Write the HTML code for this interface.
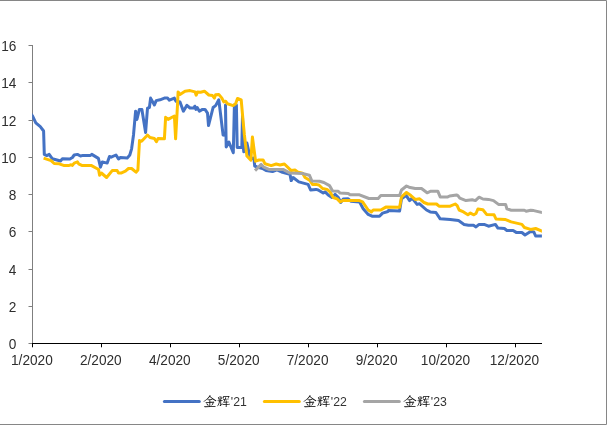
<!DOCTYPE html>
<html lang="zh"><head><meta charset="utf-8"><title>chart</title>
<style>
html,body{margin:0;padding:0;background:#fff;}
body{width:608px;height:426px;overflow:hidden;}
svg{display:block;}
text{font-family:"Liberation Sans","Noto Serif CJK SC",sans-serif;font-size:14.2px;fill:#2e2e2e;}
.lg{font-family:"Liberation Sans","LXGW WenKai TC","Noto Serif CJK SC",serif;font-size:13.6px;fill:#000;}
.ld{font-size:13.2px;fill:#333;}
</style></head><body>
<svg width="608" height="426" viewBox="0 0 608 426">
<rect width="608" height="426" fill="#fff"/>
<path d="M0,0.5H606.5V424.5H0" fill="none" stroke="#868686" stroke-width="1"/>
<path d="M32.5,45V343 M28.5,343.5H33 M28.5,306.5H33 M28.5,269.5H33 M28.5,231.5H33 M28.5,194.5H33 M28.5,157.5H33 M28.5,120.5H33 M28.5,82.5H33 M28.5,45.5H33" fill="none" stroke="#7f7f7f" stroke-width="1"/>
<path d="M32,343.5H542 M32.5,343V347.3 M101.5,343V347.3 M170.5,343V347.3 M239.5,343V347.3 M308.5,343V347.3 M377.5,343V347.3 M446.5,343V347.3 M515.5,343V347.3" fill="none" stroke="#000" stroke-width="1"/>
<g><text transform="translate(16.4,348.5) scale(0.962,1)" text-anchor="end">0</text><text transform="translate(16.4,311.5) scale(0.962,1)" text-anchor="end">2</text><text transform="translate(16.4,274.5) scale(0.962,1)" text-anchor="end">4</text><text transform="translate(16.4,236.5) scale(0.962,1)" text-anchor="end">6</text><text transform="translate(16.4,199.5) scale(0.962,1)" text-anchor="end">8</text><text transform="translate(16.4,162.5) scale(0.962,1)" text-anchor="end">10</text><text transform="translate(16.4,125.5) scale(0.962,1)" text-anchor="end">12</text><text transform="translate(16.4,87.5) scale(0.962,1)" text-anchor="end">14</text><text transform="translate(16.4,50.5) scale(0.962,1)" text-anchor="end">16</text></g>
<g><text transform="translate(31.9,364.7) scale(0.962,1)" text-anchor="middle">1/2020</text><text transform="translate(100.8,364.7) scale(0.962,1)" text-anchor="middle">2/2020</text><text transform="translate(169.8,364.7) scale(0.962,1)" text-anchor="middle">4/2020</text><text transform="translate(238.7,364.7) scale(0.962,1)" text-anchor="middle">5/2020</text><text transform="translate(307.6,364.7) scale(0.962,1)" text-anchor="middle">7/2020</text><text transform="translate(376.6,364.7) scale(0.962,1)" text-anchor="middle">9/2020</text><text transform="translate(445.5,364.7) scale(0.962,1)" text-anchor="middle">10/2020</text><text transform="translate(514.4,364.7) scale(0.962,1)" text-anchor="middle">12/2020</text></g>
<defs><clipPath id="pc"><rect x="32.2" y="40" width="509.7" height="304"/></clipPath></defs>
<g fill="none" stroke-width="3" stroke-linejoin="round" stroke-linecap="butt">
<g clip-path="url(#pc)">
<polyline stroke="#4472c4" points="30.5,113.4 32.5,115.9 35.8,122.8 40.3,126.7 43.6,131.0 44.3,154.4 46.8,155.6 49.2,154.4 52.4,158.8 60.5,161.0 62.4,158.8 69.9,159.0 72.4,157.5 74.2,155.0 77.4,154.4 80.5,156.0 83.0,155.4 90.5,155.4 91.8,154.4 98.4,158.4 100.5,167.1 102.3,161.9 107.2,163.1 109.5,156.5 111.2,157.2 116.0,155.0 118.5,159.0 120.4,157.5 127.2,158.1 129.8,155.0 131.6,148.8 133.5,135.0 135.6,111.2 136.9,119.4 139.4,109.4 141.9,109.4 145.6,132.5 147.5,108.1 149.4,107.5 150.6,98.1 154.4,105.0 156.2,100.6 160.0,99.8 164.4,98.1 167.5,98.1 169.4,100.2 174.4,98.1 176.0,101.2 180.0,102.0 183.4,111.2 186.9,105.3 190.0,108.0 193.8,108.1 194.8,106.2 196.0,109.4 197.2,107.5 199.4,111.2 202.5,109.4 205.0,109.4 207.5,113.1 208.5,125.6 213.1,107.5 215.6,105.6 218.8,99.8 223.1,135.0 225.8,135.5 225.5,105.0 226.2,147.0 228.9,142.0 233.3,152.8 234.4,105.0 236.4,105.0 237.2,147.4 241.8,147.4 242.5,116.0 243.3,147.0 243.8,151.8 246.9,143.0 249.4,154.4 251.0,158.5 253.9,158.0 254.7,166.0 257.0,167.0 262.5,168.5 266.0,170.5 272.5,171.5 277.0,169.8 282.5,172.3 290.0,174.4 291.2,180.6 293.1,177.5 298.8,181.9 308.1,184.4 310.6,190.0 316.0,189.4 318.2,190.0 323.2,193.1 325.1,191.9 328.2,195.0 332.0,197.5 335.1,194.4 338.0,197.0 340.8,202.5 343.2,199.0 348.2,198.8 350.8,201.2 359.5,201.9 363.2,208.8 368.2,214.4 372.0,216.2 379.5,216.2 382.6,213.1 388.0,211.5 388.4,210.6 399.6,211.0 401.5,198.8 406.0,195.5 407.1,196.9 409.6,200.6 412.1,198.1 417.1,204.4 419.6,203.8 426.5,210.0 430.2,211.9 435.9,212.5 440.2,218.8 450.2,219.4 458.5,220.6 464.1,224.4 468.5,225.2 473.5,225.2 476.0,226.9 479.1,224.4 484.1,224.4 488.5,226.2 495.4,224.4 497.9,228.1 504.4,228.5 506.9,230.5 513.1,230.5 516.2,232.4 521.9,232.5 525.0,235.0 530.6,231.5 533.8,231.9 535.6,236.0 544.0,236.0"/>
<polyline stroke="#ffc000" points="43.6,158.1 51.1,160.6 54.2,163.5 59.2,163.8 63.6,165.4 69.2,165.4 71.1,164.8 72.4,165.4 74.2,163.1 77.4,161.9 78.6,163.8 81.8,165.4 91.1,165.4 96.8,168.5 98.5,169.4 99.6,175.2 101.4,173.0 106.6,177.5 112.2,170.6 117.2,170.6 118.5,173.1 121.0,173.1 125.4,171.2 128.5,168.5 131.6,168.5 136.0,172.2 137.9,170.0 139.5,140.6 141.6,141.2 146.6,136.0 147.5,135.0 150.0,137.5 154.4,138.5 156.4,141.7 158.0,138.6 164.4,138.8 165.6,117.3 168.1,119.4 174.4,116.0 175.6,138.8 177.5,105.0 178.1,91.9 180.0,94.4 185.0,91.2 190.0,90.6 195.0,91.9 196.2,95.2 197.5,91.9 200.6,92.2 204.4,91.2 208.8,95.0 212.5,95.6 214.4,98.1 215.6,94.8 218.8,94.4 221.9,98.1 223.8,101.9 225.6,101.2 227.5,103.8 233.1,105.6 235.6,103.8 237.5,98.5 241.2,100.0 243.1,121.2 244.4,135.0 246.9,156.0 250.9,160.2 252.4,137.0 255.6,161.2 258.8,160.0 263.1,160.0 265.0,163.8 271.2,165.6 276.2,164.0 280.0,165.0 284.4,164.0 291.2,170.6 295.0,170.0 297.5,171.9 302.5,173.1 305.0,177.5 310.0,180.6 312.5,184.4 316.0,184.4 318.9,185.0 322.6,188.5 327.0,189.4 330.1,191.9 333.2,197.5 337.0,198.8 340.1,201.9 343.2,200.4 359.5,200.6 362.6,201.9 368.2,210.0 371.4,211.9 373.2,210.0 380.8,210.0 385.8,207.1 399.6,207.2 401.5,196.9 406.5,192.5 410.9,195.6 415.2,199.4 419.6,198.8 424.0,202.5 427.8,204.0 436.5,204.0 439.0,206.2 450.2,206.2 455.2,204.0 457.2,205.6 459.1,210.0 463.5,211.9 467.9,214.8 470.4,213.1 473.5,214.8 476.0,213.5 477.9,209.0 482.9,209.8 486.6,214.4 494.1,214.8 496.0,219.0 505.0,219.4 511.2,221.9 521.9,224.4 524.4,227.5 530.6,229.4 535.6,228.5 544.0,231.8"/>
<polyline stroke="#a5a5a5" points="255.0,170.6 261.2,164.4 263.8,167.2 268.8,169.4 283.1,169.4 290.0,173.1 302.5,173.5 309.4,175.2 311.9,181.0 319.5,181.2 323.9,182.5 329.5,185.6 332.6,191.0 338.2,191.2 340.1,193.1 348.2,193.5 350.1,194.8 359.5,194.8 368.9,198.5 378.2,198.5 380.8,195.6 399.6,195.6 401.5,190.0 406.5,186.0 409.0,187.2 415.2,188.5 421.5,188.5 427.1,192.8 430.9,191.2 437.8,191.2 440.2,196.9 447.8,196.9 449.6,196.0 456.5,195.0 457.9,195.6 459.8,198.1 466.0,200.6 472.2,199.8 475.4,200.6 479.1,197.2 482.9,199.0 488.5,199.4 493.5,200.6 498.5,204.4 505.6,204.4 506.9,208.8 511.2,210.2 524.4,210.2 526.2,211.2 530.6,210.2 533.8,210.6 544.0,213.0"/>
</g>
<path stroke-linecap="round" stroke="#4472c4" d="M164.4,401.5H199.3"/>
<path stroke-linecap="round" stroke="#ffc000" d="M264.4,401.5H299.3"/>
<path stroke-linecap="round" stroke="#a5a5a5" d="M364.4,401.5H399.3"/>
</g>
<g class="lg">
<text class="lg" x="203.2" y="405.7">金辉<tspan class="ld" dx="0.4" textLength="16" lengthAdjust="spacingAndGlyphs">'21</tspan></text>
<text class="lg" x="303.20000000000005" y="405.7">金辉<tspan class="ld" dx="0.4" textLength="16" lengthAdjust="spacingAndGlyphs">'22</tspan></text>
<text class="lg" x="403.20000000000005" y="405.7">金辉<tspan class="ld" dx="0.4" textLength="16" lengthAdjust="spacingAndGlyphs">'23</tspan></text>
</g>
</svg>
</body></html>
